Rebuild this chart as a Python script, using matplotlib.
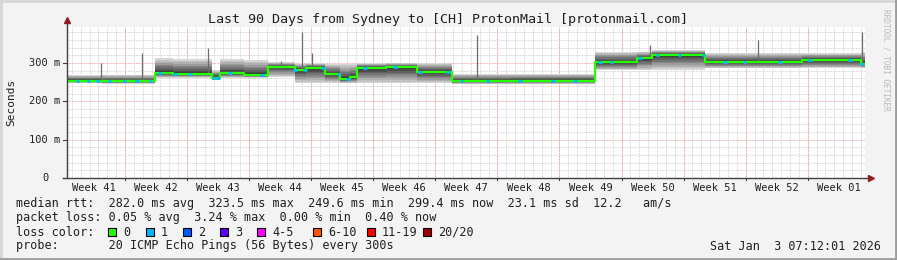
import numpy as np
import matplotlib.pyplot as plt
from matplotlib.patches import Rectangle

#################
#DATA (days from window start, values in ms)
#################
seg_start = [0.0, 4.0, 9.9, 12.0, 16.35, 17.25, 20.0, 22.66, 25.7, 27.0, 29.1, 30.8,
             31.9, 32.7, 36.0, 39.5, 43.4, 50.0, 59.5, 64.3, 66.0, 72.0, 82.9, 89.6]
end_day = 90.0
median_ms = [254, 252, 274, 271, 261, 273, 268, 290, 283, 287, 271, 258,
             263, 287, 289, 277, 253, 254, 302, 312, 321, 303, 308, 298]
smoke_hi = [268, 270, 312, 310, 282, 310, 308, 302, 298, 300, 298, 298,
            298, 300, 300, 300, 272, 272, 330, 330, 334, 326, 326, 330]
smoke_lo = [247, 246, 262, 262, 255, 262, 262, 264, 247, 247, 247, 247,
            247, 247, 247, 247, 245, 245, 281, 281, 282, 286, 286, 286]

spike_days = [3.8, 8.5, 15.9, 24.1, 26.5, 27.6, 46.2, 65.7, 77.9, 89.7]
spike_tops = [300, 326, 339, 305, 381, 326, 373, 347, 360, 381]

loss1_days = [1.2, 2.4, 3.5, 4.8, 6.5, 7.9, 9.4, 10.5, 12.2, 13.9, 16.5, 17.0, 18.4,
              22.0, 25.7, 26.9, 28.9, 30.6, 31.7, 33.6, 37.0, 39.8, 43.0, 44.5, 47.4,
              51.1, 54.8, 57.3, 60.1, 61.4, 64.6, 66.6, 69.1, 71.8, 74.2, 76.4, 80.4,
              83.8, 88.3, 89.6]

week_labels = ["Week 41", "Week 42", "Week 43", "Week 44", "Week 45", "Week 46", "Week 47",
               "Week 48", "Week 49", "Week 50", "Week 51", "Week 52", "Week 01"]
first_week_edge = 6.54

y_major = [0, 100, 200, 300]
y_major_labels = ["0", "100 m", "200 m", "300 m"]

loss_names = ["0", "1", "2", "3", "4-5", "6-10", "11-19", "20/20"]
loss_colors = ["#26ff00", "#00b8ff", "#0059ff", "#5e00ff", "#ff00ff", "#ff5500", "#ff0000", "#a00000"]

title = "Last 90 Days from Sydney to [CH] ProtonMail [protonmail.com]"
line_rtt = "median rtt:  282.0 ms avg  323.5 ms max  249.6 ms min  299.4 ms now  23.1 ms sd  12.2   am/s"
line_loss = "packet loss: 0.05 % avg  3.24 % max  0.00 % min  0.40 % now"
line_probe = "probe:       20 ICMP Echo Pings (56 Bytes) every 300s"
stamp = "Sat Jan  3 07:12:01 2026"

#################
#FIGURE SETUP
#################
W, H = 897, 260
plt.rcParams['font.family'] = ['DejaVu Sans Mono']
fig = plt.figure(figsize=(W / 100, H / 100), dpi=100, facecolor="#f3f3f3")

#helper: pixel position to figure fraction
def px(x, y):
	return x / W, 1 - y / H

ax = fig.add_axes([67 / W, 1 - 178 / H, 798 / W, 151 / H])
ax.set_facecolor("white")
ax.set_xlim(0, end_day)
ax.set_ylim(0, 394)
for s in ax.spines.values():
	s.set_visible(False)
ax.set_xticks([])
ax.set_yticks([])

#grid: minor every day / 20 ms, major every week / 100 ms
dots = (0, (0.7, 0.9))
day_lines = np.arange(first_week_edge - 6, end_day, 1.0)
week_edges = np.arange(first_week_edge, end_day, 7.0)
for d in day_lines:
	ax.axvline(d, color="#c8c8c8", lw=0.7, ls=dots, zorder=1)
for v in range(20, 394, 20):
	if v % 100:
		ax.axhline(v, color="#c8c8c8", lw=0.7, ls=dots, zorder=1)
for d in week_edges:
	ax.axvline(d, color="#f09090", lw=0.7, ls=dots, zorder=1.5)
for v in y_major[1:]:
	ax.axhline(v, color="#f09090", lw=0.7, ls=dots, zorder=1.5)

#################
#SMOKE + MEDIAN
#################
edges = np.array(seg_start + [end_day])
med = np.array(median_ms + [median_ms[-1]], dtype=float)
lo = np.array(smoke_lo + [smoke_lo[-1]], dtype=float)
hi = np.array(smoke_hi + [smoke_hi[-1]], dtype=float)

#smoke drawn as nested bands, darker towards the median
layer_frac = np.linspace(1.0, 0.12, 9)
layer_grey = np.linspace(0.84, 0.22, 9)
for f, g in zip(layer_frac, layer_grey):
	ax.fill_between(edges, med + (lo - med) * f, med + (hi - med) * f,
	                step="post", color=(g, g, g), lw=0, zorder=2)

#spikes from the median up to the max ping
idx = np.searchsorted(edges, spike_days, side="right") - 1
ax.vlines(spike_days, med[idx], spike_tops, color="#6a6a6a", lw=0.9, zorder=2.5)

ax.step(edges, med, where="post", color=loss_colors[0], lw=1.6, zorder=3)

idx = np.searchsorted(edges, loss1_days, side="right") - 1
ax.hlines(med[idx], np.array(loss1_days) - 0.2, np.array(loss1_days) + 0.2,
          color=loss_colors[1], lw=2.0, zorder=4)

#################
#AXES, ARROWS, LABELS
#################
ax.plot([0, 0], [0, 1.045], transform=ax.transAxes, color="#404040", lw=1, clip_on=False, zorder=5)
ax.plot([-0.005, 1.008], [0, 0], transform=ax.transAxes, color="#404040", lw=1, clip_on=False, zorder=5)
ax.plot([0], [1.045], transform=ax.transAxes, marker="^", ms=5, color="#902020", clip_on=False, zorder=6)
ax.plot([1.008], [0], transform=ax.transAxes, marker=">", ms=5, color="#902020", clip_on=False, zorder=6)

for d in week_edges:
	ax.plot([d, d], [0, -6], color="#404040", lw=0.8, clip_on=False)
for v, lab in zip(y_major, y_major_labels):
	ax.plot([-0.5, 0], [v, v], color="#404040", lw=0.8, clip_on=False)
	y_px = 178 - v * 151 / 394
	fig.text(*px(45, y_px), lab, ha="center", va="center", fontsize=7.5, color="#202020")

for k, lab in enumerate(week_labels):
	x_px = 67 + (first_week_edge - 3.5 + 7 * k) * 798 / end_day
	fig.text(*px(x_px, 188), lab, ha="center", va="center", fontsize=7.5, color="#202020")

fig.text(*px(448, 20), title, ha="center", va="center", fontsize=9.6, color="#202020")
fig.text(*px(11, 102), "Seconds", ha="center", va="center", rotation=90, fontsize=8, color="#202020")
fig.text(*px(886, 60), "RRDTOOL / TOBI OETIKER", ha="center", va="center", rotation=270,
         fontsize=5.6, color="#b8b8b8")

#################
#LEGEND
#################
fig.text(*px(16, 204), line_rtt, ha="left", va="center", fontsize=8.5, color="#202020")
fig.text(*px(16, 218), line_loss, ha="left", va="center", fontsize=8.5, color="#202020")
fig.text(*px(16, 232), "loss color:", ha="left", va="center", fontsize=8.5, color="#202020")
box_x = [108, 146, 183, 220, 257, 313, 367, 423]
for bx, name, col in zip(box_x, loss_names, loss_colors):
	x0, y0 = px(bx, 236)
	fig.patches.append(Rectangle((x0, y0), 8 / W, 8 / H, transform=fig.transFigure,
	                             facecolor=col, edgecolor="black", lw=0.8))
	fig.text(*px(bx + 15, 232), name, ha="left", va="center", fontsize=8.5, color="#202020")
fig.text(*px(16, 246), line_probe, ha="left", va="center", fontsize=8.5, color="#202020")
fig.text(*px(881, 246), stamp, ha="right", va="center", fontsize=8.5, color="#202020")

#frame shading: light top/left, darker bottom/right
fig.add_artist(plt.Line2D([0, 1], [0.997, 0.997], transform=fig.transFigure, color="#d6d6d6", lw=2))
fig.add_artist(plt.Line2D([0.001, 0.001], [0, 1], transform=fig.transFigure, color="#d6d6d6", lw=2))
fig.add_artist(plt.Line2D([0, 1], [0.003, 0.003], transform=fig.transFigure, color="#9c9c9c", lw=2))
fig.add_artist(plt.Line2D([0.999, 0.999], [0, 1], transform=fig.transFigure, color="#9c9c9c", lw=2))

fig.savefig("out.png", dpi=100, facecolor=fig.get_facecolor())
